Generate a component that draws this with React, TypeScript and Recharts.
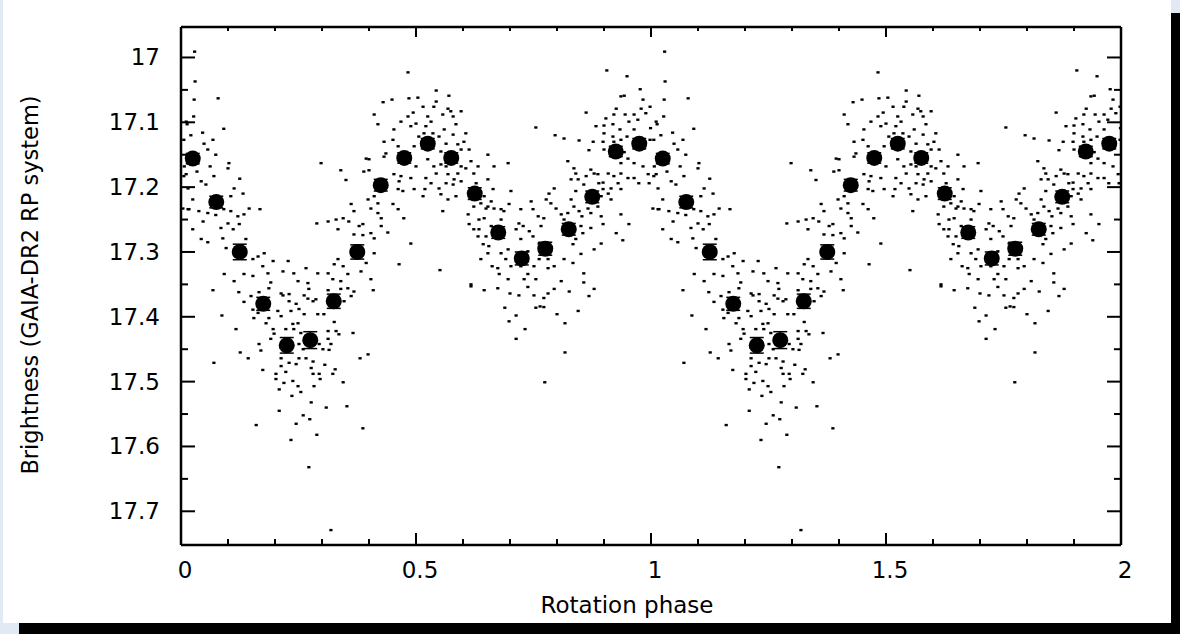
import { ScatterChart, Scatter, XAxis, YAxis, ErrorBar } from "recharts";

const FONT = "'DejaVu Sans', Verdana, sans-serif";

// phase-binned means (one rotation, repeated for phase 1-2)
const binPhase = [0.025, 0.075, 0.125, 0.175, 0.225, 0.275, 0.325, 0.375, 0.425, 0.475, 0.525, 0.575, 0.625, 0.675, 0.725, 0.775, 0.825, 0.875, 0.925, 0.975];
const binMag = [17.156, 17.223, 17.3, 17.38, 17.444, 17.436, 17.376, 17.3, 17.197, 17.155, 17.133, 17.155, 17.21, 17.27, 17.31, 17.295, 17.265, 17.215, 17.145, 17.133];
const binErr = [0.008, 0.009, 0.012, 0.01, 0.012, 0.013, 0.011, 0.011, 0.009, 0.008, 0.008, 0.008, 0.009, 0.009, 0.01, 0.01, 0.009, 0.009, 0.008, 0.008];

// individual measurements [phase, mag], folded to phase 0-1
const obs: [number, number][] = [
  [0.029, 16.991], [0.03, 17.037], [0.028, 17.065], [0.079, 17.063], [0.027, 17.091], [0.013, 17.103], [0.091, 17.11], [0.021, 17.12],
  [0.046, 17.116], [0.068, 17.127], [0.049, 17.133], [0.074, 17.15], [0.057, 17.142], [0.034, 17.176], [0.062, 17.168], [0.07, 17.183],
  [0.102, 17.163], [0.1, 17.171], [0.125, 17.187], [0.043, 17.191], [0.053, 17.196], [0.113, 17.202], [0.132, 17.21], [0.106, 17.214],
  [0.025, 17.219], [0.017, 17.234], [0.038, 17.237], [0.057, 17.24], [0.091, 17.234], [0.106, 17.237], [0.145, 17.233], [0.168, 17.234],
  [0.074, 17.243], [0.121, 17.245], [0.134, 17.242], [0.047, 17.253], [0.1, 17.256], [0.124, 17.257], [0.025, 17.265], [0.085, 17.263],
  [0.111, 17.265], [0.089, 17.279], [0.043, 17.28], [0.057, 17.285], [0.138, 17.28], [0.096, 17.294], [0.164, 17.307], [0.153, 17.311],
  [0.177, 17.302], [0.196, 17.314], [0.228, 17.314], [0.174, 17.322], [0.092, 17.334], [0.113, 17.345], [0.134, 17.334], [0.153, 17.337],
  [0.185, 17.333], [0.217, 17.33], [0.24, 17.333], [0.266, 17.325], [0.249, 17.345], [0.191, 17.347], [0.298, 17.163], [0.289, 17.256],
  [0.313, 17.253], [0.33, 17.25], [0.345, 17.248], [0.334, 17.265], [0.34, 17.174], [0.351, 17.189], [0.362, 17.226], [0.368, 17.237],
  [0.357, 17.253], [0.379, 17.26], [0.387, 17.257], [0.368, 17.273], [0.387, 17.274], [0.404, 17.271], [0.426, 17.26], [0.44, 17.27],
  [0.411, 17.279], [0.394, 17.156], [0.4, 17.157], [0.389, 17.176], [0.4, 17.174], [0.411, 17.214], [0.398, 17.219], [0.419, 17.225],
  [0.404, 17.233], [0.419, 17.24], [0.426, 17.248], [0.411, 17.088], [0.419, 17.103], [0.43, 17.069], [0.449, 17.065], [0.432, 17.13],
  [0.436, 17.148], [0.453, 17.111], [0.451, 17.127], [0.462, 17.137], [0.468, 17.099], [0.483, 17.091], [0.494, 17.085], [0.489, 17.106],
  [0.5, 17.102], [0.506, 17.122], [0.485, 17.063], [0.504, 17.062], [0.483, 17.023], [0.496, 17.137], [0.453, 17.18], [0.468, 17.183],
  [0.489, 17.186], [0.464, 17.191], [0.462, 17.203], [0.472, 17.206], [0.496, 17.203], [0.451, 17.226], [0.462, 17.234], [0.474, 17.248],
  [0.489, 17.287], [0.464, 17.319], [0.432, 17.153], [0.5, 17.168], [0.313, 17.333], [0.326, 17.319], [0.334, 17.311], [0.345, 17.322],
  [0.355, 17.334], [0.383, 17.33], [0.323, 17.342], [0.34, 17.345], [0.291, 17.333], [0.27, 17.348], [0.394, 17.317], [0.411, 17.302],
  [0.404, 17.342], [0.006, 17.127], [0.007, 17.168], [0.011, 17.18],
  [0.068, 17.359], [0.123, 17.362], [0.134, 17.377], [0.087, 17.398], [0.117, 17.419], [0.126, 17.455], [0.143, 17.464], [0.07, 17.471],
  [0.149, 17.368], [0.153, 17.389], [0.155, 17.402], [0.164, 17.394], [0.166, 17.362], [0.187, 17.356], [0.187, 17.402], [0.181, 17.41],
  [0.196, 17.419], [0.198, 17.426], [0.191, 17.434], [0.166, 17.442], [0.17, 17.452], [0.174, 17.482], [0.202, 17.488], [0.202, 17.496],
  [0.209, 17.512], [0.206, 17.391], [0.213, 17.399], [0.217, 17.367], [0.23, 17.376], [0.234, 17.391], [0.223, 17.419], [0.24, 17.419],
  [0.213, 17.464], [0.213, 17.476], [0.23, 17.471], [0.223, 17.485], [0.219, 17.502], [0.238, 17.499], [0.251, 17.464], [0.266, 17.464],
  [0.281, 17.469], [0.277, 17.479], [0.281, 17.488], [0.294, 17.488], [0.296, 17.496], [0.306, 17.474], [0.323, 17.488], [0.328, 17.481],
  [0.345, 17.501], [0.249, 17.507], [0.255, 17.516], [0.236, 17.522], [0.283, 17.507], [0.277, 17.532], [0.209, 17.545], [0.309, 17.54],
  [0.353, 17.538], [0.274, 17.558], [0.26, 17.552], [0.245, 17.565], [0.289, 17.582], [0.234, 17.59], [0.16, 17.567], [0.387, 17.572],
  [0.272, 17.632], [0.319, 17.729], [0.366, 17.425], [0.381, 17.464], [0.398, 17.458], [0.409, 17.359], [0.313, 17.422], [0.33, 17.422],
  [0.336, 17.427], [0.313, 17.434], [0.319, 17.442], [0.302, 17.45], [0.315, 17.451], [0.294, 17.442], [0.304, 17.396], [0.291, 17.396],
  [0.326, 17.408], [0.249, 17.41], [0.238, 17.411], [0.255, 17.425], [0.262, 17.396], [0.251, 17.388], [0.245, 17.38], [0.281, 17.376],
  [0.287, 17.373], [0.27, 17.372], [0.262, 17.367], [0.23, 17.365], [0.213, 17.364], [0.272, 17.357], [0.313, 17.359], [0.34, 17.357],
  [0.355, 17.356], [0.368, 17.361], [0.362, 17.368], [0.347, 17.376], [0.251, 17.442], [0.213, 17.448], [0.26, 17.45], [0.245, 17.473],
  [0.906, 17.02], [0.949, 17.029], [0.977, 17.049], [0.943, 17.059], [0.936, 17.06], [0.983, 17.065], [0.998, 17.076], [0.979, 17.079],
  [0.926, 17.079], [0.964, 17.088], [0.989, 17.086], [0.945, 17.088], [0.921, 17.088], [0.904, 17.094], [0.953, 17.099], [0.972, 17.096],
  [0.011, 17.099], [0.883, 17.106], [0.9, 17.105], [0.919, 17.103], [0.934, 17.111], [0.964, 17.111], [0.999, 17.109], [0.9, 17.117],
  [0.919, 17.122], [0.949, 17.122], [0.936, 17.127], [0.898, 17.13], [0.921, 17.13], [0.998, 17.127], [0.862, 17.085], [0.755, 17.108],
  [0.796, 17.12], [0.815, 17.125], [0.847, 17.128], [0.877, 17.13], [0.868, 17.143], [0.9, 17.142], [0.943, 17.146], [0.951, 17.156],
  [0.936, 17.163], [0.964, 17.163], [0.983, 17.168], [0.994, 17.18], [0.006, 17.183], [0.964, 17.186], [0.974, 17.194], [0.996, 17.194],
  [0.015, 17.202], [0.015, 17.234], [0.004, 17.233], [0.951, 17.186], [0.936, 17.179], [0.921, 17.183], [0.909, 17.179], [0.887, 17.18],
  [0.898, 17.193], [0.936, 17.203], [0.93, 17.194], [0.915, 17.202], [0.953, 17.257], [0.936, 17.242], [0.94, 17.282], [0.926, 17.271],
  [0.823, 17.16], [0.836, 17.171], [0.84, 17.179], [0.83, 17.188], [0.845, 17.188], [0.862, 17.183], [0.872, 17.173], [0.879, 17.179],
  [0.857, 17.196], [0.889, 17.194], [0.898, 17.203], [0.894, 17.214], [0.909, 17.21], [0.915, 17.219], [0.84, 17.206], [0.83, 17.219],
  [0.836, 17.23], [0.847, 17.237], [0.853, 17.245], [0.887, 17.23], [0.898, 17.257], [0.894, 17.245], [0.883, 17.219], [0.866, 17.233],
  [0.872, 17.24], [0.794, 17.202], [0.783, 17.21], [0.787, 17.225], [0.777, 17.219], [0.798, 17.233], [0.809, 17.242], [0.823, 17.24],
  [0.815, 17.25], [0.851, 17.26], [0.855, 17.271], [0.872, 17.263], [0.84, 17.28], [0.834, 17.288], [0.851, 17.303], [0.879, 17.296],
  [0.894, 17.287], [0.857, 17.333], [0.857, 17.347], [0.809, 17.345], [0.834, 17.317], [0.815, 17.311], [0.794, 17.322], [0.781, 17.325],
  [0.781, 17.311], [0.762, 17.287], [0.749, 17.276], [0.741, 17.268], [0.766, 17.26], [0.772, 17.248], [0.76, 17.245], [0.749, 17.234],
  [0.745, 17.222], [0.723, 17.234], [0.719, 17.256], [0.728, 17.26], [0.713, 17.265], [0.723, 17.28], [0.738, 17.299], [0.723, 17.322],
  [0.751, 17.322], [0.762, 17.311], [0.738, 17.334], [0.73, 17.342], [0.755, 17.342], [0.702, 17.322], [0.691, 17.311], [0.696, 17.296],
  [0.681, 17.302], [0.674, 17.325], [0.677, 17.334], [0.696, 17.342], [0.662, 17.322], [0.638, 17.311], [0.653, 17.302], [0.643, 17.288],
  [0.655, 17.291], [0.649, 17.276], [0.66, 17.26], [0.681, 17.25], [0.687, 17.237], [0.698, 17.226], [0.702, 17.206], [0.681, 17.234],
  [0.666, 17.233], [0.653, 17.23], [0.634, 17.25], [0.623, 17.265], [0.632, 17.276], [0.613, 17.257], [0.611, 17.242], [0.623, 17.23],
  [0.638, 17.225], [0.649, 17.233], [0.645, 17.214], [0.66, 17.222], [0.664, 17.203], [0.653, 17.188], [0.628, 17.194], [0.623, 17.179],
  [0.632, 17.168], [0.653, 17.15], [0.666, 17.168], [0.696, 17.163], [0.617, 17.16], [0.606, 17.171], [0.596, 17.168], [0.589, 17.179],
  [0.596, 17.191], [0.581, 17.188], [0.568, 17.18], [0.564, 17.194], [0.579, 17.196], [0.585, 17.214], [0.568, 17.219], [0.553, 17.211],
  [0.549, 17.202], [0.543, 17.179], [0.532, 17.194], [0.519, 17.203], [0.515, 17.214], [0.521, 17.186], [0.538, 17.168], [0.553, 17.165],
  [0.564, 17.168], [0.557, 17.237], [0.525, 17.157], [0.602, 17.13], [0.613, 17.142], [0.606, 17.117], [0.596, 17.083], [0.585, 17.103],
  [0.574, 17.083], [0.568, 17.079], [0.579, 17.091], [0.57, 17.059], [0.543, 17.051], [0.543, 17.068], [0.538, 17.076], [0.557, 17.088],
  [0.525, 17.091], [0.532, 17.099], [0.515, 17.076], [0.56, 17.111], [0.549, 17.122], [0.564, 17.133], [0.579, 17.119], [0.589, 17.134],
  [0.596, 17.142], [0.521, 17.106], [0.536, 17.117], [0.517, 17.117], [0.553, 17.145], [0.581, 17.15], [0.551, 17.328], [0.617, 17.35],
  [0.634, 17.265], [0.645, 17.248],
  [0.617, 17.353], [0.645, 17.359], [0.674, 17.356], [0.7, 17.364], [0.719, 17.367], [0.738, 17.354], [0.751, 17.367], [0.772, 17.371],
  [0.781, 17.364], [0.794, 17.357], [0.826, 17.361], [0.868, 17.368], [0.879, 17.357], [0.689, 17.386], [0.713, 17.398], [0.755, 17.386],
  [0.764, 17.384], [0.772, 17.385], [0.8, 17.396], [0.845, 17.391], [0.698, 17.407], [0.732, 17.419], [0.817, 17.41], [0.713, 17.434],
  [0.817, 17.455], [0.774, 17.501],
];

const xTicks = [0, 0.1, 0.2, 0.3, 0.4, 0.5, 0.6, 0.7, 0.8, 0.9, 1, 1.1, 1.2, 1.3, 1.4, 1.5, 1.6, 1.7, 1.8, 1.9, 2];
const yTicks = [17, 17.05, 17.1, 17.15, 17.2, 17.25, 17.3, 17.35, 17.4, 17.45, 17.5, 17.55, 17.6, 17.65, 17.7];

// the plot shows two rotations: same data shifted by one in phase
const cycles = [0, 1];
const points = cycles.flatMap((c) => obs.map(([p, m]) => ({ x: p + c, y: m })));
const means = cycles.flatMap((c) => binPhase.map((p, i) => ({ x: p + c, y: binMag[i], err: binErr[i] })));

const onStep = (v: number, step: number) => Math.abs(v / step - Math.round(v / step)) < 1e-6;

function BottomTick(props: any) {
  const { x, y, payload } = props;
  const major = onStep(payload.value, 0.5);
  return (
    <g>
      <line x1={x} x2={x} y1={y} y2={y - (major ? 12 : 6)} stroke="#000" strokeWidth={2} />
      {major && (
        <text x={x + 4} y={y + 33} textAnchor="middle" fontSize={23} fontFamily={FONT} fill="#000">
          {String(payload.value)}
        </text>
      )}
    </g>
  );
}

function TopTick(props: any) {
  const { x, y, payload } = props;
  const major = onStep(payload.value, 0.5);
  return <line x1={x} x2={x} y1={y} y2={y + (major ? 10 : 4)} stroke="#000" strokeWidth={2} />;
}

function LeftTick(props: any) {
  const { x, y, payload } = props;
  const major = onStep(payload.value, 0.1);
  return (
    <g>
      <line x1={x} x2={x + (major ? 14 : 7)} y1={y} y2={y} stroke="#000" strokeWidth={2} />
      {major && (
        <text x={x - 21} y={y + 8} textAnchor="end" fontSize={23} fontFamily={FONT} fill="#000">
          {String(Math.round(payload.value * 10) / 10)}
        </text>
      )}
    </g>
  );
}

function RightTick(props: any) {
  const { x, y, payload } = props;
  const major = onStep(payload.value, 0.1);
  return <line x1={x} x2={x - (major ? 14 : 7)} y1={y} y2={y} stroke="#000" strokeWidth={2} />;
}

const Dot = (p: any) => <rect x={p.cx - 1.6} y={p.cy - 1.2} width={3.2} height={2.4} fill="#000" />;
const Mean = (p: any) => <circle cx={p.cx} cy={p.cy} r={8} fill="#000" />;

export default function App() {
  const yDomain = [16.953, 17.752];
  return (
    <div style={{ position: "fixed", left: 0, top: 0, width: 1180, height: 634, background: "#e1e9f3", overflow: "hidden" }}>
      <div style={{ position: "absolute", left: 3, top: 0, width: 1168, height: 623, background: "#fff" }} />
      <div style={{ position: "absolute", left: 19, top: 623, width: 1161, height: 11, background: "#000" }} />
      <div style={{ position: "absolute", left: 1171, top: 13, width: 9, height: 621, background: "#000" }} />
      <div style={{ position: "absolute", left: 0, top: 0 }}>
        <ScatterChart width={1180} height={634} margin={{ top: 26, right: 58, bottom: 88, left: 180 }}>
          <XAxis
            type="number"
            dataKey="x"
            domain={[0, 2]}
            ticks={xTicks}
            interval={0}
            height={1}
            tickSize={0}
            tickMargin={0}
            axisLine={{ stroke: "#000", strokeWidth: 2.5 }}
            tickLine={false}
            tick={(p: any) => <BottomTick {...p} />}
            allowDataOverflow
          />
          <XAxis
            xAxisId="top"
            orientation="top"
            type="number"
            dataKey="x"
            domain={[0, 2]}
            ticks={xTicks}
            interval={0}
            height={1}
            tickSize={0}
            tickMargin={0}
            axisLine={{ stroke: "#000", strokeWidth: 2.5 }}
            tickLine={false}
            tick={(p: any) => <TopTick {...p} />}
            allowDataOverflow
          />
          <YAxis
            type="number"
            dataKey="y"
            domain={yDomain}
            reversed
            ticks={yTicks}
            interval={0}
            width={1}
            tickSize={0}
            tickMargin={0}
            axisLine={{ stroke: "#000", strokeWidth: 2.5 }}
            tickLine={false}
            tick={(p: any) => <LeftTick {...p} />}
            allowDataOverflow
          />
          <YAxis
            yAxisId="right"
            orientation="right"
            type="number"
            dataKey="y"
            domain={yDomain}
            reversed
            ticks={yTicks}
            interval={0}
            width={1}
            tickSize={0}
            tickMargin={0}
            axisLine={{ stroke: "#000", strokeWidth: 2.5 }}
            tickLine={false}
            tick={(p: any) => <RightTick {...p} />}
            allowDataOverflow
          />
          <Scatter data={points} shape={Dot} isAnimationActive={false} />
          <Scatter data={means} shape={Mean} isAnimationActive={false}>
            <ErrorBar dataKey="err" direction="y" width={7} stroke="#000" strokeWidth={1.5} />
          </Scatter>
        </ScatterChart>
      </div>
      <div
        style={{
          position: "absolute",
          left: 627,
          top: 594,
          transform: "translateX(-50%)",
          fontFamily: FONT,
          fontSize: 23,
          lineHeight: "23px",
          whiteSpace: "nowrap",
          color: "#000",
        }}
      >
        Rotation phase
      </div>
      <div
        style={{
          position: "absolute",
          left: 30,
          top: 285,
          transform: "translate(-50%, -50%) rotate(-90deg)",
          fontFamily: FONT,
          fontSize: 22.5,
          lineHeight: "23px",
          whiteSpace: "nowrap",
          color: "#000",
        }}
      >
        Brightness (GAIA-DR2 RP system)
      </div>
    </div>
  );
}
